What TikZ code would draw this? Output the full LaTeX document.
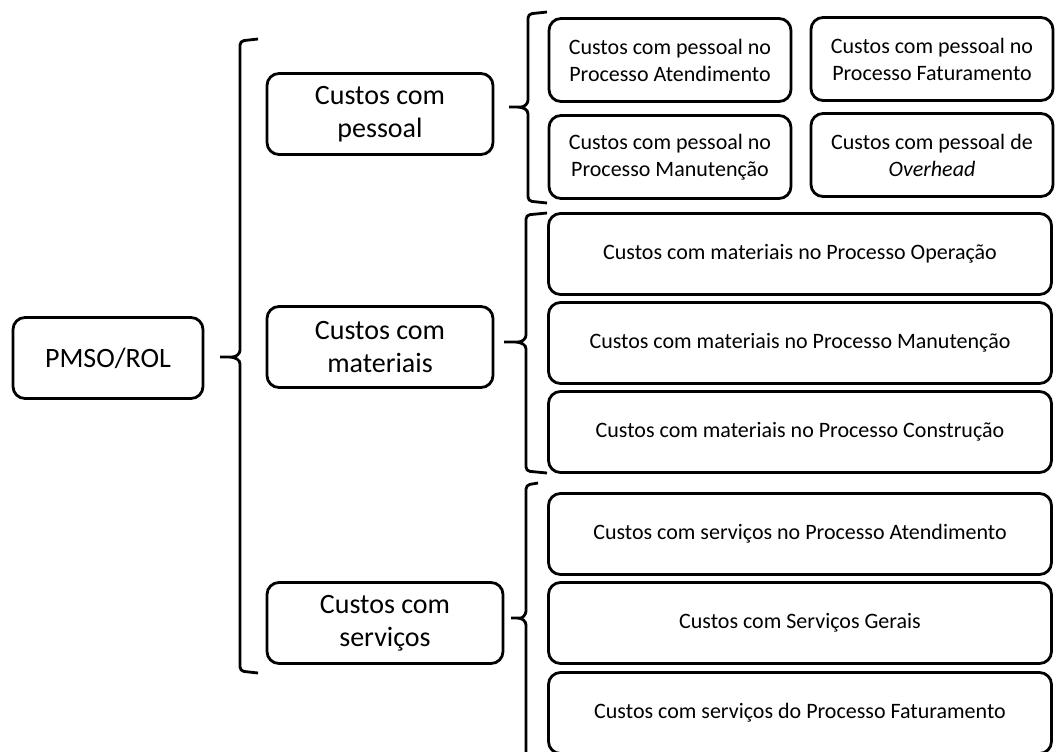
\documentclass[tikz,border=0pt]{standalone}
\usepackage{fontspec}
\setmainfont{Carlito}

\tikzset{
	caixa/.style={draw, line width=1.4pt, rounded corners=6pt, align=center, inner sep=0pt},
	grande/.style={caixa, font=\fontsize{14}{16.5}\selectfont, minimum height=40.5pt},
	pequena/.style={caixa, font=\fontsize{11}{13.5}\selectfont, minimum width=121pt, minimum height=41.5pt},
	larga/.style={caixa, font=\fontsize{11}{13.5}\selectfont, minimum width=251.5pt, minimum height=40.5pt},
	chave/.style={line width=1.4pt, rounded corners=2pt}
}

\begin{document}
\begin{tikzpicture}[x=0.5pt, y=-0.5pt]
		\useasboundingbox (0, 0) rectangle (1055, 751);

		\node[grande, minimum width=95pt] (PMSO) at (108, 358) {PMSO/ROL};
		\node[grande, minimum width=113pt] (pessoal) at (380, 114) {Custos com\\pessoal};
		\node[grande, minimum width=113pt] (materiais) at (380, 347) {Custos com\\materiais};
		\node[grande, minimum width=118pt] (servicos) at (385, 623) {Custos com\\serviços};

		\node[pequena] (pAtend) at (670, 60) {Custos com pessoal no\\Processo Atendimento};
		\node[pequena] (pFatur) at (932, 59) {Custos com pessoal no\\Processo Faturamento};
		\node[pequena] (pManut) at (670, 157) {Custos com pessoal no\\Processo Manutenção};
		\node[pequena] (pOver) at (932, 155) {Custos com pessoal de\\\textit{Overhead}};

		\node[larga] (mOper) at (800, 254) {Custos com materiais no Processo Operação};
		\node[larga] (mManut) at (800, 343) {Custos com materiais no Processo Manutenção};
		\node[larga] (mConst) at (800, 432) {Custos com materiais no Processo Construção};

		\node[larga] (sAtend) at (800, 534) {Custos com serviços no Processo Atendimento};
		\node[larga] (sGerais) at (800, 623) {Custos com Serviços Gerais};
		\node[larga] (sFatur) at (800, 713) {Custos com serviços do Processo Faturamento};

		% chaves
		\draw[chave] (258, 39) -- (240, 41) -- (240, 346) .. controls (240, 354) and (236, 357) .. (228, 357) -- (220, 357)
			(228, 357) .. controls (236, 357) and (240, 360) .. (240, 368) -- (240, 671) -- (258, 673);
		\draw[chave] (547, 12) -- (528, 14) -- (528, 96) .. controls (528, 104) and (524, 107) .. (517, 107) -- (509, 107)
			(517, 107) .. controls (524, 107) and (528, 110) .. (528, 118) -- (528, 201) -- (547, 203);
		\draw[chave] (547, 213) -- (526, 215) -- (526, 331) .. controls (526, 339) and (522, 342) .. (514, 342) -- (504, 342)
			(514, 342) .. controls (522, 342) and (526, 345) .. (526, 353) -- (526, 471) -- (547, 473);
		\draw[chave] (538, 483) -- (526, 485) -- (526, 607) .. controls (526, 615) and (522, 618) .. (517, 618) -- (511, 618)
			(517, 618) .. controls (522, 618) and (526, 621) .. (526, 629) -- (526, 770);
	\end{tikzpicture}
\end{document}
